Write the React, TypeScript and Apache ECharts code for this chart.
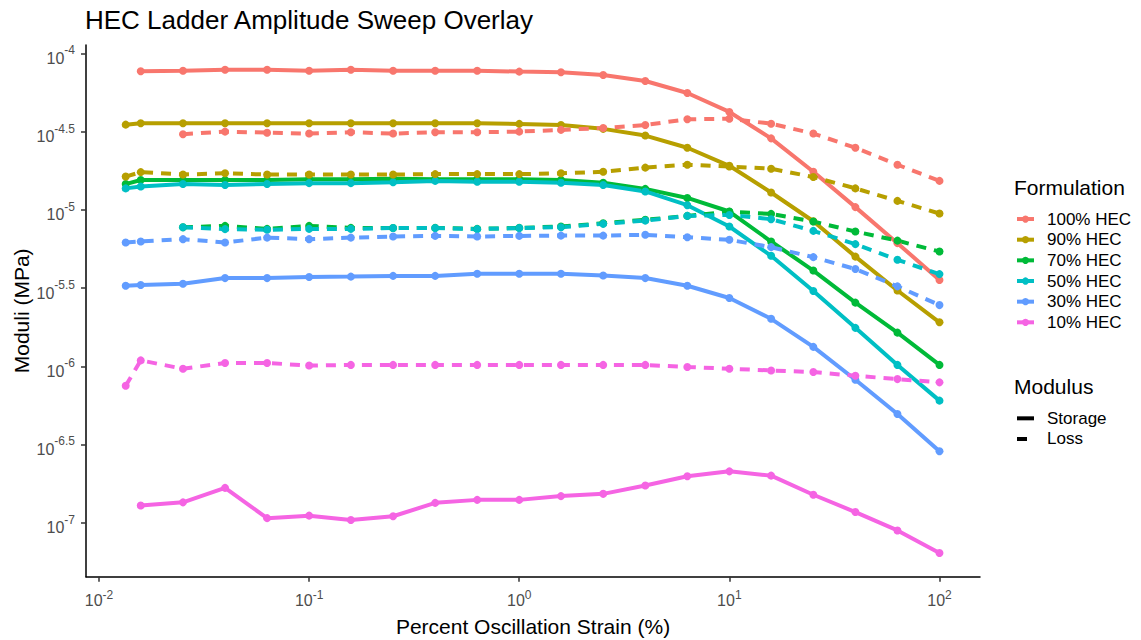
import React, { useEffect, useRef } from "react";
import * as echarts from "echarts";

// Percent oscillation strain (%) grid
const strain = [0.0134, 0.0158, 0.0251, 0.0398, 0.0631, 0.1, 0.158, 0.251, 0.398, 0.631, 1, 1.58, 2.51, 3.98, 6.31, 10, 15.8, 25.1, 39.8, 63.1, 100];

const formulations = ["100% HEC", "90% HEC", "70% HEC", "50% HEC", "30% HEC", "10% HEC"];
const colors = ["#F8766D", "#B79F00", "#00BA38", "#00BFC4", "#619CFF", "#F564E3"];

// Storage modulus (MPa)
const storage100 = [null, 7.67e-5, 7.74e-5, 7.85e-5, 7.85e-5, 7.74e-5, 7.85e-5, 7.74e-5, 7.74e-5, 7.74e-5, 7.64e-5, 7.57e-5, 7.26e-5, 6.65e-5, 5.58e-5, 4.22e-5, 2.86e-5, 1.75e-5, 1.04e-5, 6.12e-6, 3.56e-6];
const storage90 = [3.50e-5, 3.57e-5, 3.57e-5, 3.57e-5, 3.57e-5, 3.57e-5, 3.57e-5, 3.57e-5, 3.57e-5, 3.57e-5, 3.54e-5, 3.48e-5, 3.29e-5, 2.98e-5, 2.49e-5, 1.91e-5, 1.29e-5, 8.45e-6, 5.02e-6, 3.05e-6, 1.91e-6];
const storage70 = [1.46e-5, 1.55e-5, 1.55e-5, 1.55e-5, 1.55e-5, 1.57e-5, 1.57e-5, 1.58e-5, 1.57e-5, 1.57e-5, 1.57e-5, 1.55e-5, 1.49e-5, 1.36e-5, 1.19e-5, 9.75e-6, 6.27e-6, 4.09e-6, 2.55e-6, 1.64e-6, 1.02e-6];
const storage50 = [1.37e-5, 1.41e-5, 1.46e-5, 1.44e-5, 1.46e-5, 1.48e-5, 1.48e-5, 1.50e-5, 1.53e-5, 1.51e-5, 1.51e-5, 1.49e-5, 1.44e-5, 1.31e-5, 1.07e-5, 7.82e-6, 5.08e-6, 3.03e-6, 1.76e-6, 1.02e-6, 6.03e-7];
const storage30 = [3.27e-6, 3.31e-6, 3.37e-6, 3.66e-6, 3.66e-6, 3.72e-6, 3.74e-6, 3.78e-6, 3.78e-6, 3.90e-6, 3.90e-6, 3.90e-6, 3.80e-6, 3.66e-6, 3.27e-6, 2.73e-6, 2.01e-6, 1.33e-6, 8.20e-7, 4.95e-7, 2.86e-7];
const storage10 = [null, 1.29e-7, 1.35e-7, 1.67e-7, 1.07e-7, 1.11e-7, 1.04e-7, 1.10e-7, 1.34e-7, 1.40e-7, 1.40e-7, 1.48e-7, 1.53e-7, 1.73e-7, 1.98e-7, 2.13e-7, 2.00e-7, 1.51e-7, 1.17e-7, 8.93e-8, 6.41e-8];

// Loss modulus (MPa)
const loss100 = [null, null, 3.04e-5, 3.16e-5, 3.11e-5, 3.07e-5, 3.13e-5, 3.07e-5, 3.13e-5, 3.13e-5, 3.16e-5, 3.24e-5, 3.33e-5, 3.48e-5, 3.79e-5, 3.82e-5, 3.55e-5, 3.07e-5, 2.49e-5, 1.94e-5, 1.53e-5];
const loss90 = [1.63e-5, 1.74e-5, 1.68e-5, 1.71e-5, 1.68e-5, 1.68e-5, 1.68e-5, 1.68e-5, 1.69e-5, 1.69e-5, 1.69e-5, 1.71e-5, 1.75e-5, 1.86e-5, 1.94e-5, 1.89e-5, 1.83e-5, 1.62e-5, 1.37e-5, 1.14e-5, 9.46e-6];
const loss70 = [null, null, 7.74e-6, 7.89e-6, 7.55e-6, 7.89e-6, 7.66e-6, 7.64e-6, 7.66e-6, 7.55e-6, 7.66e-6, 7.82e-6, 8.20e-6, 8.63e-6, 9.14e-6, 9.70e-6, 9.42e-6, 8.41e-6, 7.26e-6, 6.35e-6, 5.41e-6];
const loss50 = [null, null, 7.74e-6, 7.52e-6, 7.45e-6, 7.55e-6, 7.55e-6, 7.64e-6, 7.64e-6, 7.52e-6, 7.64e-6, 7.74e-6, 8.13e-6, 8.53e-6, 9.14e-6, 9.27e-6, 8.71e-6, 7.33e-6, 6.03e-6, 4.79e-6, 3.88e-6];
const loss30 = [6.18e-6, 6.27e-6, 6.49e-6, 6.18e-6, 6.64e-6, 6.49e-6, 6.64e-6, 6.75e-6, 6.81e-6, 6.75e-6, 6.81e-6, 6.84e-6, 6.84e-6, 6.92e-6, 6.68e-6, 6.43e-6, 5.77e-6, 4.98e-6, 4.18e-6, 3.24e-6, 2.46e-6];
const loss10 = [7.50e-7, 1.09e-6, 9.64e-7, 1.05e-6, 1.05e-6, 1.01e-6, 1.02e-6, 1.02e-6, 1.02e-6, 1.02e-6, 1.02e-6, 1.02e-6, 1.02e-6, 1.02e-6, 9.89e-7, 9.64e-7, 9.40e-7, 9.18e-7, 8.69e-7, 8.28e-7, 7.89e-7];

// Tick positions
const xTicks = [0.01, 0.1, 1, 10, 100];
const yTicks = [1e-7, Math.pow(10, -6.5), 1e-6, Math.pow(10, -5.5), 1e-5, Math.pow(10, -4.5), 1e-4];

const storageSets = [storage100, storage90, storage70, storage50, storage30, storage10];
const lossSets = [loss100, loss90, loss70, loss50, loss30, loss10];

const FONT = "'Liberation Sans', Arial, sans-serif";
const TICK_COL = "#4D4D4D";

const pairs = (vals: (number | null)[]) =>
  strain.map((x, i) => [x, vals[i]]).filter((p) => p[1] != null);

const expLabel = (v: number) => {
  const e = Math.round(Math.log10(v) * 2) / 2;
  return `{b|10}{s|${e}}`;
};

function buildOption() {
  const series: any[] = [];
  formulations.forEach((name, i) => {
    series.push({
      type: "line",
      name,
      data: pairs(storageSets[i]),
      symbol: "circle",
      symbolSize: 8,
      showSymbol: true,
      silent: true,
      lineStyle: { color: colors[i], width: 4, type: "solid" },
      itemStyle: { color: colors[i] },
    });
  });
  formulations.forEach((name, i) => {
    series.push({
      type: "line",
      name,
      data: pairs(lossSets[i]),
      symbol: "circle",
      symbolSize: 8,
      showSymbol: true,
      silent: true,
      lineStyle: { color: colors[i], width: 4, type: [10, 8] },
      itemStyle: { color: colors[i] },
    });
  });
  series.push({
    type: "line",
    name: "Storage",
    data: [],
    symbol: "none",
    lineStyle: { color: "#000", width: 4, type: "solid" },
    itemStyle: { color: "#000" },
  });
  series.push({
    type: "line",
    name: "Loss",
    data: [],
    symbol: "none",
    lineStyle: { color: "#000", width: 4, type: [10, 8] },
    itemStyle: { color: "#000" },
  });

  const titleStyle = (size: number, lh: number) => ({
    fontSize: size,
    fontWeight: "normal",
    color: "#000",
    fontFamily: FONT,
    lineHeight: lh,
  });

  return {
    animation: false,
    backgroundColor: "#fff",
    title: [
      { text: "HEC Ladder Amplitude Sweep Overlay", left: 85, top: 5, padding: 0, textStyle: titleStyle(26, 30) },
      { text: "Formulation", left: 1014, top: 174, padding: 0, textStyle: titleStyle(21, 26) },
      { text: "Modulus", left: 1014, top: 373, padding: 0, textStyle: titleStyle(21, 26) },
    ],
    legend: [
      {
        orient: "vertical",
        left: 1015,
        top: 208.7,
        padding: 0,
        itemGap: 0,
        itemWidth: 17,
        itemHeight: 9,
        selectedMode: false,
        data: formulations,
        lineStyle: { width: 4 },
        textStyle: { fontSize: 17, lineHeight: 20.66, color: "#000", fontFamily: FONT, padding: [0, 0, 0, 8] },
      },
      {
        orient: "vertical",
        left: 1015,
        top: 408,
        padding: 0,
        itemGap: 0,
        itemWidth: 17,
        itemHeight: 9,
        selectedMode: false,
        data: [
          { name: "Storage", itemStyle: { opacity: 0 } },
          { name: "Loss", itemStyle: { opacity: 0 } },
        ],
        lineStyle: { width: 4 },
        textStyle: { fontSize: 17, lineHeight: 20.66, color: "#000", fontFamily: FONT, padding: [0, 0, 0, 8] },
      },
    ],
    grid: { left: 86, right: 161, top: 45, bottom: 63.3, containLabel: false, outerBoundsMode: "none" },
    xAxis: {
      type: "log",
      logBase: 10,
      min: 0.008673,
      max: 155.9,
      name: "Percent Oscillation Strain (%)",
      nameLocation: "middle",
      nameGap: 37.6,
      nameMoveOverlap: false,
      nameTextStyle: { fontSize: 21, color: "#000", fontFamily: FONT, lineHeight: 24 },
      axisLine: { show: true, lineStyle: { color: "#000", width: 1.5 } },
      axisTick: { show: true, length: 5, customValues: xTicks, lineStyle: { color: "#333333", width: 1.5 } },
      splitLine: { show: false },
      minorTick: { show: false },
      axisLabel: {
        customValues: xTicks,
        margin: 12,
        color: TICK_COL,
        formatter: (v: number) => expLabel(v),
        rich: {
          b: { fontSize: 16, lineHeight: 20, padding: [8, 0, 0, 0], verticalAlign: "bottom", color: TICK_COL, fontFamily: FONT },
          s: { fontSize: 12, lineHeight: 16, verticalAlign: "top", color: TICK_COL, fontFamily: FONT },
        },
      },
    },
    yAxis: {
      type: "log",
      logBase: 10,
      min: 4.52e-8,
      max: 1.13e-4,
      name: "Moduli (MPa)",
      nameLocation: "middle",
      nameGap: 52.5,
      nameRotate: 90,
      nameMoveOverlap: false,
      nameTextStyle: { fontSize: 21, color: "#000", fontFamily: FONT, lineHeight: 24 },
      axisLine: { show: true, lineStyle: { color: "#000", width: 1.5 } },
      axisTick: { show: true, length: 5, customValues: yTicks, lineStyle: { color: "#333333", width: 1.5 } },
      splitLine: { show: false },
      minorTick: { show: false },
      axisLabel: {
        customValues: yTicks,
        margin: 11,
        padding: [4, 0, 0, 0],
        color: TICK_COL,
        formatter: (v: number) => expLabel(v),
        rich: {
          b: { fontSize: 16, lineHeight: 20, padding: [9, 0, 0, 0], verticalAlign: "bottom", color: TICK_COL, fontFamily: FONT },
          s: { fontSize: 12, lineHeight: 22, verticalAlign: "top", color: TICK_COL, fontFamily: FONT },
        },
      },
    },
    series,
  };
}

export default function App() {
  const ref = useRef<HTMLDivElement>(null);
  useEffect(() => {
    if (!ref.current) return;
    const chart = echarts.init(ref.current, null, { renderer: "svg" });
    chart.setOption(buildOption() as any);
    return () => chart.dispose();
  }, []);
  return (
    <div
      ref={ref}
      style={{ position: "absolute", left: 0, top: 0, width: 1141, height: 640, background: "#fff" }}
    />
  );
}
